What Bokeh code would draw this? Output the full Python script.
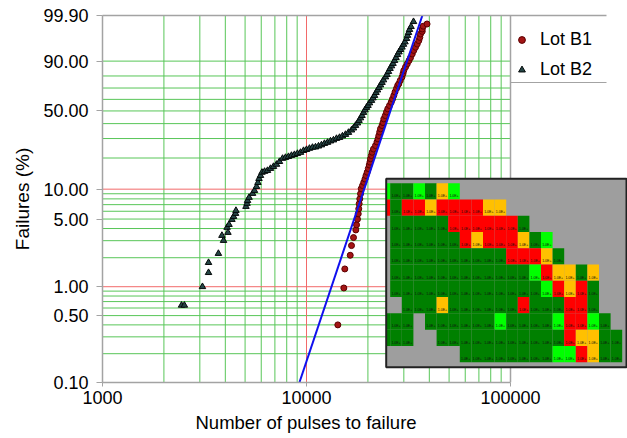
import numpy as np
from bokeh.plotting import figure
from bokeh.models import (Range1d, FixedTicker, CustomJSTickFormatter, NumeralTickFormatter,
                          Legend, LegendItem, Title, LinearScale, LogAxis)
from bokeh.core.properties import value
from bokeh.embed import file_html
from bokeh.resources import INLINE

# ---------------- data ----------------
b1_pulses = [14240, 15240, 15410, 16380, 16620, 17000, 17450, 17590, 17780, 17930,
             18040, 18120, 18250, 18400, 18540, 18820, 19090, 19350, 19580, 19840,
             20090, 20310, 20470, 20590, 20790, 20990, 21300, 21790, 22160, 22410,
             22620, 22850, 23060, 23450, 23710, 23930, 24340, 24680, 25030, 25520,
             26020, 26400, 26790, 27160, 27620, 27990, 28340, 28810, 29390, 29730,
             29990, 30580, 31170, 31810, 32350, 32980, 33570, 34230, 34890, 35530,
             35930, 36220, 36920, 36920, 37340, 38980]
b1_pct = [0.40, 0.97, 1.53, 2.12, 2.67, 3.23, 3.87, 4.36, 4.98, 5.65,
          6.35, 7.14, 8.0, 9.0, 10.1, 10.85, 11.7, 12.6, 13.6, 14.65,
          15.9, 17.2, 18.3, 19.7, 21.1, 22.6, 24.2, 26.0, 28.0, 29.8,
          31.8, 34.1, 36.3, 38.6, 40.8, 43.6, 46.2, 49.1, 51.8, 54.6,
          57.5, 60.3, 63.4, 66.5, 69.6, 72.2, 73.6, 76.4, 79.2, 81.8,
          84.05, 86.4, 88.4, 90.3, 91.8, 93.5, 94.9, 96.0, 96.9, 97.7,
          98.3, 98.8, 99.1, 99.32, 99.52, 99.64]

b2_pulses = [2440, 2520, 3090, 3310, 3310, 3700, 3850, 3920, 4080, 4120,
             4170, 4310, 4390, 4490, 4510, 5050, 5110, 5140, 5230, 5440,
             5560, 5690, 5780, 5850, 5950, 6050, 6230, 6440, 6660, 6890,
             7130, 7370, 7630, 7890, 8160, 8440, 8730, 9030, 9350, 9670,
             10000, 10340, 10700, 11070, 11450, 11840, 12250, 12680, 13110, 13560,
             14030, 14520, 15010, 15530, 16060, 16620, 17000, 17390, 17780, 18090,
             18400, 18710, 19030, 19350, 19690, 20020, 20360, 20830, 21180, 21550,
             21910, 22290, 22670, 23060, 23450, 23850, 24400, 24810, 25230, 25670,
             26110, 26550, 27010, 27470, 27940, 28410, 28900, 29390, 29890, 30400,
             30930, 31270, 31630, 31990, 32540, 33460]
b2_pct = [0.64, 0.64, 1.00, 1.40, 1.78, 2.21, 3.39, 3.01, 4.10, 3.64,
          4.39, 4.94, 5.30, 5.69, 6.10, 6.70, 7.19, 7.69, 8.26, 9.05,
          9.68, 10.6, 11.6, 12.7, 13.6, 14.6, 14.9, 15.2, 15.9, 16.6,
          17.4, 18.5, 19.8, 20.2, 20.6, 21.1, 21.5, 22.0, 22.5, 23.4,
          23.9, 24.5, 25.0, 25.2, 25.7, 26.3, 27.1, 27.7, 28.5, 29.1,
          30.0, 30.6, 31.5, 32.5, 33.8, 35.4, 36.8, 38.6, 40.4, 42.3,
          44.3, 46.2, 48.7, 50.8, 52.9, 54.6, 56.8, 59.0, 61.2, 63.4,
          66.0, 68.2, 70.4, 72.6, 74.7, 76.8, 79.2, 81.1, 83.3, 85.4,
          87.1, 88.6, 90.3, 91.8, 93.2, 94.3, 95.2, 96.0, 96.8, 97.4,
          98.1, 98.6, 98.97, 99.27, 99.49, 99.74]

# Weibull fit of Lot B1 (scale eta, shape beta)
fit_eta = 27300.0
fit_beta = 6.37
fit_pct_ends = [0.1, 99.9]

y_tick_pct = [0.1, 0.5, 1, 5, 10, 50, 90, 99.9]
x_ticks = [1000, 10000, 100000]
grid_x_green = [2000, 3000, 4000, 5000, 6000, 7000, 8000, 9000,
                20000, 30000, 40000, 50000, 60000, 70000, 80000, 90000]
grid_x_red = [10000]
grid_y_green = [0.2, 0.3, 0.4, 0.5, 0.6, 0.7, 0.8, 0.9,
                2, 3, 4, 5, 6, 7, 8, 9,
                20, 30, 40, 50, 60, 70, 80, 90]
grid_y_red = [1, 10]

# inset heat map: g = dark green, l = light green, r = red, y = amber, . = empty
heat_rows = [
    "lgglgyl..............",
    "rgrryrrrryy..........",
    ".gggggrrrrrrg........",
    ".ggggggryrrrygl......",
    ".ggggggggggrrryg.....",
    ".gggggggggggglryygy...",
    ".ggggggggggggglryrg...",
    "..gggyggggggrgggrrg..",
    "ggg.gggggglgggglrrlg.",
    "ggg..gggggggggggryygg",
    ".......ggggggggllrygg",
]
heat_label = "1.0E+"

# ---------------- helpers / layout ----------------
def wb(pct):
    f = np.asarray(pct, dtype=float) / 100.0
    return np.log(-np.log(1.0 - f))

FONT = "Liberation Sans"
GREEN = "#58c658"
RED = "#f26a6a"
FRAME = "#a3a3a3"
HEAT_COLORS = {"g": "#008000", "l": "#00ff00", "r": "#ff0000", "y": "#ffc000"}

W, H = 627, 438
ML, MR, MT, MB = 102, 0, 15, 56
FW, FH = W - ML - MR, H - MT - MB
DECADE_PX = 204.0
X_LO = 1000.0
X_HI = X_LO * 10 ** (FW / DECADE_PX)
X_PLOT_HI = 100000.0
X_LEG = X_LO * 10 ** (504 / DECADE_PX)
Y_LO, Y_HI = float(wb(0.1)), float(wb(99.9))
Y_PER_PX = (Y_HI - Y_LO) / FH
Y_LEG_BOTTOM = Y_HI - 67 * Y_PER_PX

p = figure(width=W, height=H, x_axis_type="log",
           x_range=Range1d(X_LO, X_HI), y_range=Range1d(Y_LO, Y_HI),
           output_backend="svg", toolbar_location=None,
           min_border_left=ML, min_border_right=MR,
           min_border_top=MT, min_border_bottom=MB)
p.outline_line_color = None
p.xgrid.visible = False
p.ygrid.visible = False
p.background_fill_color = "white"
p.border_fill_color = "white"

# grid lines
gxg = np.array(grid_x_green, float)
p.segment(x0=gxg, y0=Y_LO, x1=gxg, y1=Y_HI, line_color=GREEN, line_width=1)
gyg = wb(grid_y_green)
p.segment(x0=X_LO, y0=gyg, x1=X_PLOT_HI, y1=gyg, line_color=GREEN, line_width=1)
gxr = np.array(grid_x_red, float)
p.segment(x0=gxr, y0=Y_LO, x1=gxr, y1=Y_HI, line_color=RED, line_width=1)
gyr = wb(grid_y_red)
p.segment(x0=X_LO, y0=gyr, x1=X_PLOT_HI, y1=gyr, line_color=RED, line_width=1)

# right frame edge of plot area and bottom of legend box
p.segment(x0=[X_PLOT_HI], y0=[Y_LO], x1=[X_PLOT_HI], y1=[Y_HI], line_color=FRAME, line_width=1.5)
p.segment(x0=[X_PLOT_HI], y0=[Y_LEG_BOTTOM], x1=[X_LEG], y1=[Y_LEG_BOTTOM], line_color=FRAME, line_width=1.2)

# data
s2 = p.scatter(b2_pulses, wb(b2_pct), marker="triangle", size=6.5,
               fill_color="#254545", line_color="#050a0a", line_width=1)
s1 = p.scatter(b1_pulses, wb(b1_pct), marker="circle", size=6,
               fill_color="#a31515", line_color="#5c0000", line_width=1)
fit_y = wb(fit_pct_ends)
fit_x = fit_eta * (-np.log(1 - np.asarray(fit_pct_ends) / 100.0)) ** (1.0 / fit_beta)
p.line(fit_x, fit_y, line_color="#1010ee", line_width=2)

# legend dummy lines
lb1 = p.line(x=[], y=[], line_color="#8b1010", line_width=1.5)
lb2 = p.line(x=[], y=[], line_color="#93abab", line_width=1.5)

# ---------------- inset heat map ----------------
CELL_W, CELL_H = 11.6, 16.27          # px per cell
GRID_X0, GRID_Y0 = 287.7, 167.7       # frame-relative px of cell grid origin
BOX_L, BOX_R, BOX_T, BOX_B = 283.7, 524.0, 163.3, 351.7
U_LO, U_HI = -GRID_X0 / CELL_W, (FW - GRID_X0) / CELL_W
V_TOP, V_BOT = -GRID_Y0 / CELL_H, (FH - GRID_Y0) / CELL_H
p.extra_x_ranges = {"inset": Range1d(U_LO, U_HI)}
p.extra_x_scales = {"inset": LinearScale()}
p.extra_y_ranges = {"inset": Range1d(V_BOT, V_TOP)}
p.extra_y_scales = {"inset": LinearScale()}
bl, br = (BOX_L - GRID_X0) / CELL_W, (BOX_R - GRID_X0) / CELL_W
bt, bb = (BOX_T - GRID_Y0) / CELL_H, (BOX_B - GRID_Y0) / CELL_H

p.quad(left=[bl], right=[br], top=[bt], bottom=[bb], fill_color="#9e9e9e",
       line_color=None, x_range_name="inset", y_range_name="inset")
cl, cr, ct, cb, cc, tx, ty = [], [], [], [], [], [], []
for r, row in enumerate(heat_rows):
    for k, c in enumerate(row[:21]):
        if c == ".":
            continue
        cl.append(max(k - 1, bl)); cr.append(k); ct.append(r); cb.append(r + 1)
        cc.append(HEAT_COLORS[c])
        if k > 0:
            tx.append(k - 0.5); ty.append(r + 0.8)
p.quad(left=cl, right=cr, top=ct, bottom=cb, fill_color=cc, line_color=None,
       x_range_name="inset", y_range_name="inset")
p.text(x=tx, y=ty, text=[heat_label] * len(tx), text_font=value(FONT),
       text_font_size="3.5px", text_color="#111111", text_align="center",
       text_baseline="middle", x_range_name="inset", y_range_name="inset")
p.quad(left=[bl], right=[br], top=[bt], bottom=[bb], fill_color=None,
       line_color="#222222", line_width=2, x_range_name="inset", y_range_name="inset")

# ---------------- axes ----------------
ya = p.yaxis[0]
ya.ticker = FixedTicker(ticks=[float(v) for v in wb(y_tick_pct)])
ya.formatter = CustomJSTickFormatter(code="return (100*(1-Math.exp(-Math.exp(tick)))).toFixed(2);")
ya.axis_line_color = FRAME
ya.axis_line_width = 1.5
ya.major_tick_line_color = FRAME
ya.major_tick_out = 6
ya.major_tick_in = 0
ya.minor_tick_out = 0
ya.minor_tick_in = 0
ya.major_label_standoff = 8
ya.major_label_text_font = FONT
ya.major_label_text_font_size = "18px"
ya.major_label_text_color = "#000000"
ya.axis_label = "Failures (%)"
ya.axis_label_text_font = FONT
ya.axis_label_text_font_size = "19px"
ya.axis_label_text_font_style = "normal"
ya.axis_label_text_color = "#000000"
ya.axis_label_standoff = 7

xa = p.xaxis[0]
xa.ticker = FixedTicker(ticks=x_ticks)
xa.formatter = NumeralTickFormatter(format="0")
xa.bounds = (X_LO, X_PLOT_HI)
xa.axis_line_color = FRAME
xa.axis_line_width = 1.5
xa.major_tick_line_color = FRAME
xa.major_tick_out = 4
xa.major_tick_in = 0
xa.minor_tick_out = 0
xa.minor_tick_in = 0
xa.major_label_standoff = 4
xa.major_label_text_font = FONT
xa.major_label_text_font_size = "18px"
xa.major_label_text_color = "#000000"

top_ax = LogAxis(ticker=FixedTicker(ticks=[]), bounds=(X_LO, X_LEG),
                 axis_line_color=FRAME, axis_line_width=1.5,
                 major_tick_out=0, major_tick_in=0, minor_tick_out=0, minor_tick_in=0,
                 major_label_text_font_size="0px")
p.add_layout(top_ax, "above")

# x axis title, centred under the 1000..100000 plot area
x_title = Title(text="Number of pulses to failure", align="left", offset=93,
                text_font=FONT, text_font_size="18.5px", text_font_style="normal",
                text_color="#000000", standoff=7)
p.add_layout(x_title, "below")

legend = Legend(items=[LegendItem(label="Lot B1", renderers=[lb1, s1]),
                       LegendItem(label="Lot B2", renderers=[lb2, s2])],
                location=(411, 302), margin=0, padding=7, spacing=9,
                glyph_width=17, glyph_height=21, label_height=21, label_standoff=10,
                label_text_font=FONT, label_text_font_size="18px",
                label_text_color="#000000", border_line_color=None,
                background_fill_alpha=0)
p.add_layout(legend)

open("out.html", "w").write(file_html(p, INLINE))
